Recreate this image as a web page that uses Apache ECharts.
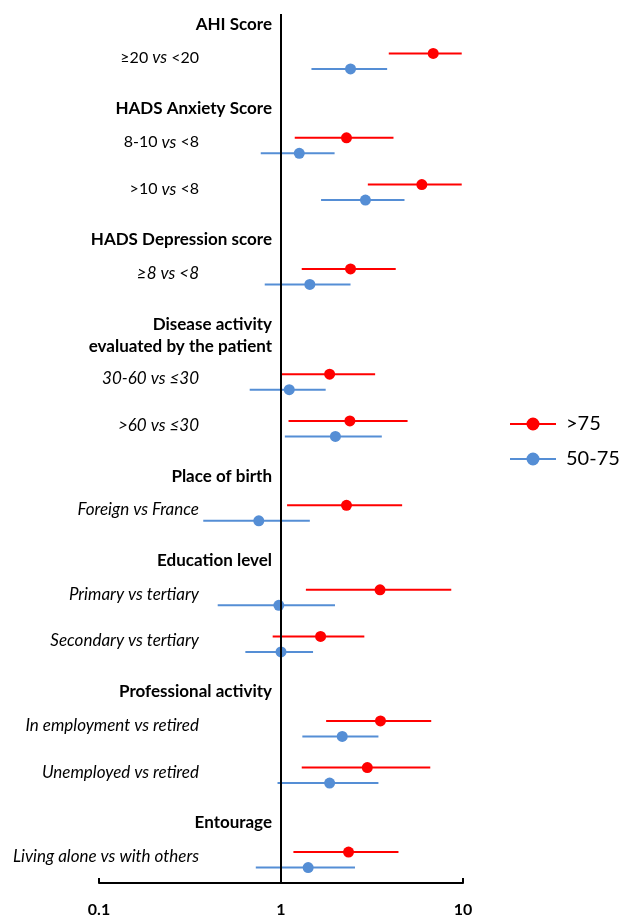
<!DOCTYPE html>
<html>
<head>
<meta charset="utf-8">
<script src="https://cdn.jsdelivr.net/npm/echarts@6/dist/echarts.min.js"></script>
<style>
html,body{margin:0;padding:0;background:#fff;}
#chart{width:625px;height:916px;}
</style>
</head>
<body>
<div id="chart"></div>
<script>
// ---- data ----
const headers = ['AHI Score', 'HADS Anxiety Score', 'HADS Depression score',
  'Disease activity\nevaluated by the patient', 'Place of birth', 'Education level',
  'Professional activity', 'Entourage'];
const rowLabels = ['≥20 vs <20', '8-10 vs <8', '>10 vs <8', '≥8 vs <8',
  '30-60 vs ≤30', '>60 vs ≤30', 'Foreign vs France', 'Primary vs tertiary',
  'Secondary vs tertiary', 'In employment vs retired', 'Unemployed vs retired',
  'Living alone vs with others'];
const rowHeader = [0, 1, 1, 2, 3, 3, 4, 5, 5, 6, 6, 7];
const onlyVsItalic = [true, true, true, false, false, false, false, false, false, false, false, false];
const seriesNames = ['>75', '50-75'];
const oldOR = [6.86, 2.29, 5.94, 2.41, 1.85, 2.39, 2.29, 3.50, 1.65, 3.52, 2.98, 2.35];
const oldLo = [3.91, 1.19, 3.00, 1.30, 1.00, 1.10, 1.08, 1.37, 0.90, 1.77, 1.30, 1.17];
const oldHi = [9.84, 4.15, 9.84, 4.27, 3.29, 4.96, 4.63, 8.62, 2.87, 6.69, 6.61, 4.42];
const midOR = [2.41, 1.26, 2.91, 1.44, 1.11, 1.99, 0.755, 0.973, 1.00, 2.17, 1.85, 1.41];
const midLo = [1.47, 0.774, 1.66, 0.814, 0.673, 1.05, 0.374, 0.449, 0.637, 1.31, 0.957, 0.727];
const midHi = [3.83, 1.97, 4.77, 2.41, 1.76, 3.58, 1.44, 1.98, 1.50, 3.43, 3.43, 2.55];
const xTicks = [0.1, 1, 10];

// ---- layout of rows (vertical order, in row units) ----
const GAP = {headerToRow: 6, rowToRow: 8.3, rowToHeader: 9, rowToTwoLine: 11, twoLineToRow: 7.7};
const items = [];
let pos = 0, prev = null;
headers.forEach(function (h, hi) {
  const twoLine = h.indexOf('\n') >= 0;
  if (prev === 'row') pos += twoLine ? GAP.rowToTwoLine : GAP.rowToHeader;
  items.push({kind: 'header', text: h, pos: pos});
  prev = 'header';
  rowLabels.forEach(function (r, ri) {
    if (rowHeader[ri] !== hi) return;
    pos += prev === 'header' ? (twoLine ? GAP.twoLineToRow : GAP.headerToRow) : GAP.rowToRow;
    items.push({kind: 'row', text: r, pos: pos, idx: ri});
    prev = 'row';
  });
});
const rowPos = [];
items.forEach(function (it) { if (it.kind === 'row') rowPos[it.idx] = it.pos; });

function richLabel(t, i) {
  if (onlyVsItalic[i]) return t.replace(' vs ', ' {i|vs} ');
  return '{i|' + t + '}';
}

const FONT = 'Lato, "Open Sans", sans-serif';
const colors = ['#ff0000', '#558ed5'];
const offsets = [-4.5, 11];

function intervalRenderer(offset) {
  return function (params, api) {
    const p = api.value(3);
    const y = api.coord([1, p])[1] + offset;
    const xl = api.coord([api.value(0), p])[0];
    const xh = api.coord([api.value(1), p])[0];
    const xm = api.coord([api.value(2), p])[0];
    const c = api.visual('color');
    return {type: 'group', children: [
      {type: 'line', shape: {x1: xl, y1: y, x2: xh, y2: y}, style: {stroke: c, lineWidth: 2}},
      {type: 'circle', shape: {cx: xm, cy: y, r: 5.5}, style: {fill: c}}
    ]};
  };
}

const groupSeries = [[oldLo, oldHi, oldOR], [midLo, midHi, midOR]].map(function (g, k) {
  return {
    type: 'custom', name: seriesNames[k],
    itemStyle: {color: colors[k]},
    renderItem: intervalRenderer(offsets[k]),
    encode: {x: [0, 1, 2], y: 3},
    data: rowPos.map(function (p, i) { return [g[0][i], g[1][i], g[2][i], p]; }),
    z: 3 + k
  };
});

const labelSeries = {
  type: 'custom', name: 'labels', silent: true,
  encode: {x: 0, y: 1},
  data: items.map(function (it, i) { return [1, it.pos, i]; }),
  renderItem: function (params, api) {
    const it = items[api.value(2)];
    const pt = api.coord([1, api.value(1)]);
    if (it.kind === 'header') {
      return {type: 'text', x: pt[0] - 9, y: pt[1], style: {
        text: it.text, fill: '#000', align: 'right', verticalAlign: 'middle',
        font: 'bold 17px ' + FONT, lineHeight: 22
      }};
    }
    return {type: 'text', x: pt[0] - 82, y: pt[1], style: {
      text: richLabel(it.text, it.idx), fill: '#000', align: 'right', verticalAlign: 'middle',
      font: '16px ' + FONT,
      rich: {i: {fontStyle: 'italic', fontSize: 17, fontFamily: FONT, fill: '#000'}}
    }};
  }
};

const chart = echarts.init(document.getElementById('chart'));
chart.setOption({
  animation: false,
  grid: {left: 99, width: 364, top: 14, bottom: 33, outerBoundsMode: 'none', containLabel: false},
  xAxis: {
    type: 'log', logBase: 10, min: xTicks[0], max: xTicks[xTicks.length - 1],
    position: 'bottom',
    axisLine: {onZero: false, lineStyle: {color: '#000', width: 2}},
    axisTick: {inside: true, length: 5, lineStyle: {color: '#000', width: 2}},
    splitLine: {show: false},
    minorTick: {show: false},
    axisLabel: {
      margin: 19, color: '#000', fontWeight: 'bold', fontSize: 16, fontFamily: FONT,
      formatter: function (v) { return xTicks.indexOf(+v.toPrecision(3)) >= 0 ? String(+v.toPrecision(3)) : ''; }
    }
  },
  yAxis: {type: 'value', inverse: true, min: -1.8, max: 152.6, show: false},
  legend: {
    orient: 'vertical', left: 510, top: 414, padding: 0,
    itemWidth: 46, itemHeight: 13, itemGap: 15,
    selectedMode: false,
    textStyle: {fontSize: 20, fontFamily: FONT, color: '#000', padding: [0, 0, 0, 5]},
    data: seriesNames.map(function (n) {
      return {name: n, icon: 'path://M0,5.5L46,5.5L46,7.5L0,7.5Z M16.5,6.5A6.5,6.5,0,1,1,29.5,6.5A6.5,6.5,0,1,1,16.5,6.5Z'};
    })
  },
  series: groupSeries.concat([labelSeries, {
    type: 'custom', name: 'ref', silent: true, data: [],
    renderItem: function () { return null; },
    markLine: {
      silent: true, symbol: ['none', 'none'], label: {show: false},
      lineStyle: {color: '#000', width: 2, type: 'solid'},
      data: [{xAxis: xTicks[1]}]
    }
  }])
});
</script>
</body>
</html>
